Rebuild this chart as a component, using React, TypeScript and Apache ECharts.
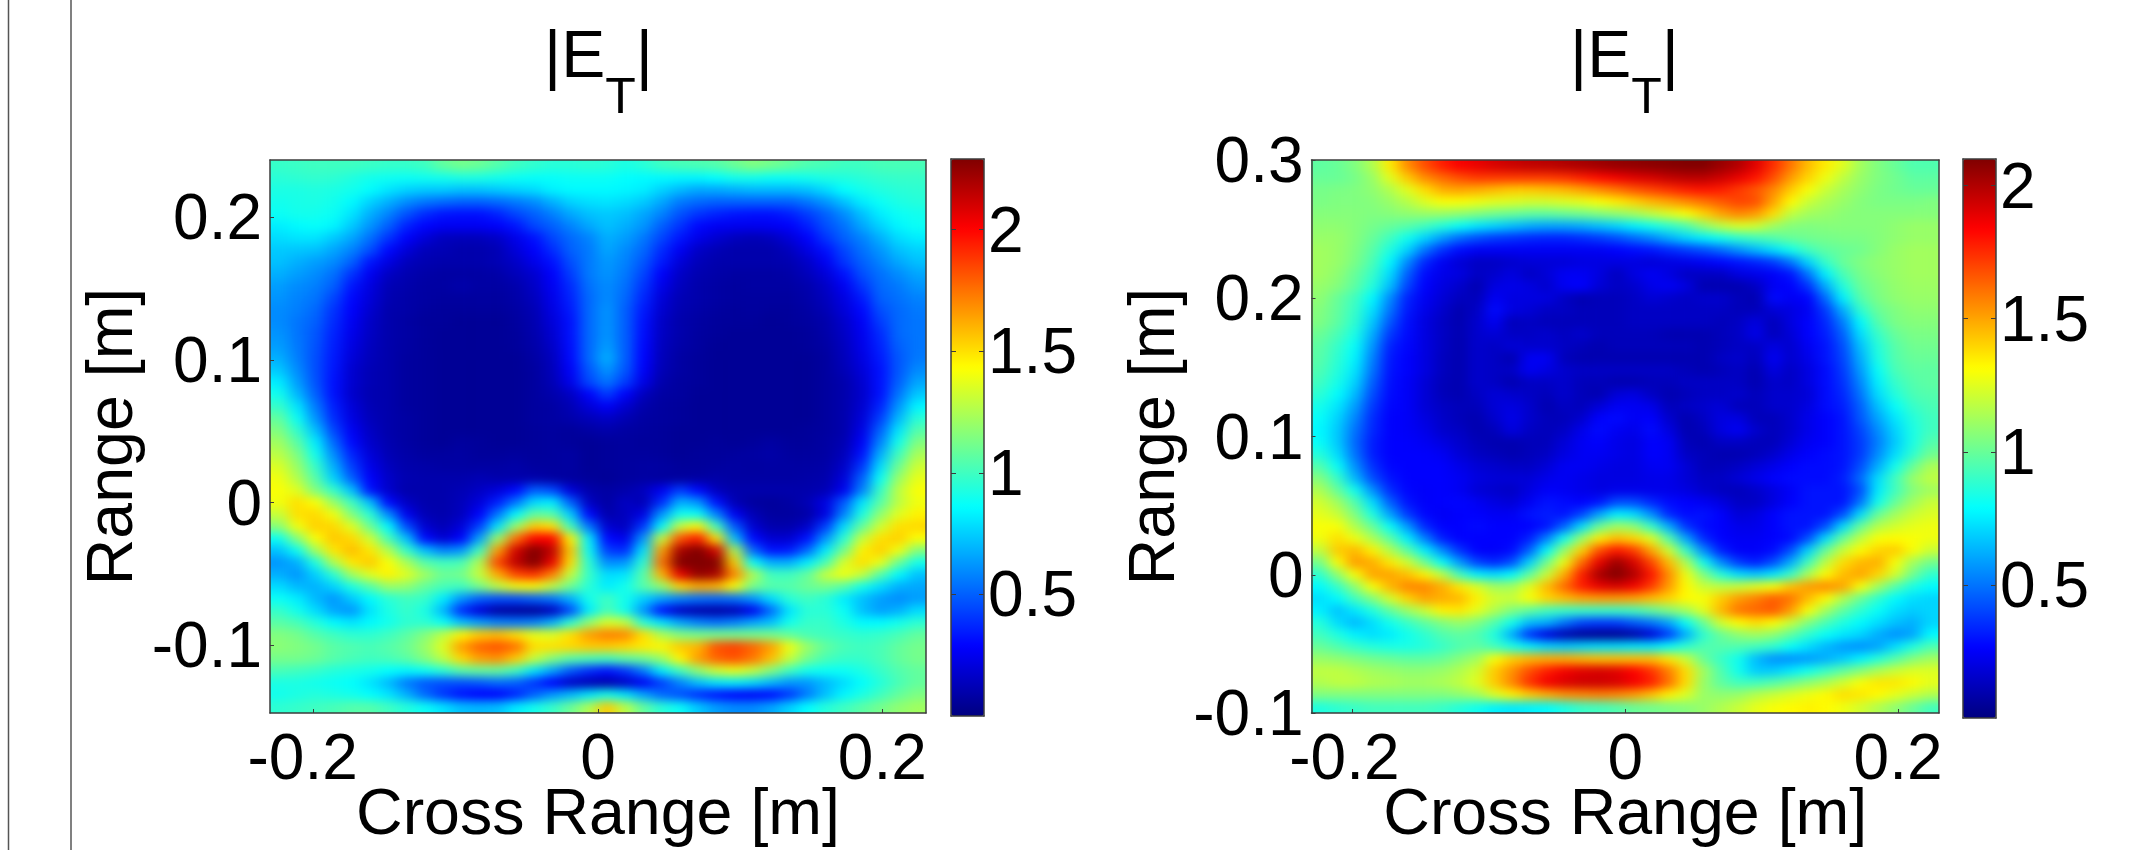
import React, { useEffect, useRef } from "react";
import * as echarts from "echarts";

const FONT = "Liberation Sans";
const JET = ["#000080", "#0000ff", "#0080ff", "#00ffff", "#80ff80", "#ffff00", "#ff8000", "#ff0000", "#800000"];

const leftXTicks = [-0.2, 0, 0.2];
const leftYTicks = [-0.1, 0, 0.1, 0.2];
const rightXTicks = [-0.2, 0, 0.2];
const rightYTicks = [-0.1, 0, 0.1, 0.2, 0.3];
const barTicks = [0.5, 1, 1.5, 2];
const TITLE = ["|E", "T", "|"];
const X_NAME = "Cross Range [m]";
const Y_NAME = "Range [m]";

// Field magnitude |E_T|, in hundredths, top row first.
const leftRows = [
[98,99,100,100,100,99,98,98,100,108,112,110,105,100,97,95,95,96,95,92,95,100,102,103,105,110,115,112,108,104,102,100,100,102,102,102],
[95,96,97,96,93,90,89,88,89,90,92,92,90,88,87,87,88,88,88,86,85,85,84,84,86,90,90,88,88,90,92,93,95,97,98,98],
[92,92,93,92,90,86,80,76,74,74,72,72,74,76,78,83,85,85,85,84,82,76,70,66,66,68,70,70,70,72,78,86,90,93,95,96],
[90,91,92,90,85,76,68,60,55,52,50,50,52,56,60,68,76,79,80,78,74,66,56,52,50,50,50,50,50,55,62,72,82,88,92,94],
[88,90,90,88,80,68,58,47,38,33,32,32,36,44,50,57,66,72,74,72,66,58,47,40,36,33,32,32,35,42,50,60,72,82,88,90],
[82,85,87,84,74,62,50,36,29,26,26,26,28,33,44,50,58,66,72,68,62,50,40,30,26,25,25,26,28,35,46,54,66,76,84,88],
[78,80,80,74,66,54,40,28,20,14,13,13,16,24,32,44,52,58,68,64,56,44,33,24,18,14,12,14,20,28,40,50,58,68,78,82],
[74,73,72,66,58,46,30,20,13,12,10,10,12,20,28,38,50,56,66,60,52,38,26,16,12,10,10,10,14,22,32,44,54,62,72,76],
[72,68,64,60,50,33,22,14,11,10,10,10,12,16,24,32,46,56,63,58,48,34,20,13,10,10,10,10,11,16,26,40,50,58,66,72],
[68,64,60,54,40,26,15,11,9,8,8,8,9,13,18,28,42,56,62,56,44,28,16,11,9,8,8,8,9,13,20,32,46,54,60,66],
[64,60,57,50,33,22,12,10,8,8,10,8,8,10,16,26,38,54,60,54,40,24,14,10,8,7,8,8,8,10,16,26,40,52,56,62],
[62,58,55,44,30,20,11,9,8,7,7,7,7,9,14,24,36,52,60,52,37,20,12,10,8,7,7,7,7,9,14,22,34,50,54,58],
[60,57,52,40,28,18,10,9,7,6,6,6,6,8,12,22,34,52,62,50,34,18,11,9,7,6,7,6,6,8,12,20,30,46,52,56],
[60,55,50,38,26,16,10,8,6,6,5,5,5,7,11,20,32,52,62,50,32,16,10,8,6,6,6,5,6,7,10,17,27,42,52,55],
[62,55,48,36,24,15,10,8,6,5,5,5,5,6,10,18,32,52,62,50,31,15,10,7,6,5,5,5,5,6,9,15,25,38,52,55],
[64,56,47,35,22,14,10,8,6,5,5,5,5,6,9,16,31,52,64,50,30,14,9,7,5,5,5,5,5,6,8,14,24,36,50,55],
[68,57,46,34,20,13,10,7,6,5,5,5,5,5,8,14,30,52,68,50,29,13,8,6,5,5,5,5,5,5,7,13,22,34,48,56],
[74,60,46,33,18,12,10,7,6,5,5,5,5,5,7,13,27,48,62,48,27,12,8,6,5,5,5,5,5,5,7,12,20,32,48,60],
[82,64,47,32,18,12,10,7,6,5,5,5,5,5,7,12,24,44,55,42,23,10,7,6,5,5,5,5,5,5,7,10,18,32,50,66],
[90,70,50,32,17,11,10,7,6,5,5,5,5,5,7,10,15,28,42,28,14,8,7,5,5,5,5,5,5,5,7,10,17,32,55,74],
[98,80,56,35,20,12,10,7,6,5,5,5,5,5,7,8,12,20,27,18,10,7,6,5,5,5,5,5,5,5,7,10,18,36,62,84],
[108,88,62,38,22,13,10,8,6,5,5,5,5,5,7,8,10,13,16,12,8,7,6,5,5,5,5,5,5,5,7,10,20,42,70,95],
[115,97,72,44,26,15,10,8,6,5,5,5,5,5,6,7,6,8,10,8,7,6,5,5,5,5,5,5,5,6,7,10,23,50,80,105],
[122,106,82,52,30,17,11,8,6,5,7,6,5,5,6,7,6,5,6,7,6,6,5,5,6,5,6,8,6,6,8,11,27,58,90,115],
[128,114,90,60,36,20,12,9,7,7,8,6,6,7,6,7,8,5,6,7,7,6,5,6,6,7,8,9,7,7,8,13,32,68,100,124],
[135,120,98,68,42,24,14,10,9,8,8,8,8,9,7,7,8,5,6,7,8,8,6,6,7,8,7,8,8,8,9,16,40,78,110,132],
[140,126,105,76,50,28,16,11,10,10,10,12,10,10,10,8,7,6,5,7,8,7,7,8,9,8,8,8,8,9,10,20,50,88,120,138],
[142,136,115,98,72,32,17,10,10,10,12,15,20,30,50,45,20,10,8,10,14,25,42,30,14,10,10,10,10,10,12,25,58,98,128,142],
[140,150,142,120,100,72,30,15,10,10,13,20,35,55,78,82,50,15,8,15,12,38,68,62,32,12,7,6,8,12,22,48,80,105,128,140],
[130,150,152,140,115,95,60,25,12,10,14,28,55,85,108,105,75,30,10,14,22,62,90,88,58,26,12,7,7,9,22,58,92,118,136,146],
[116,140,154,152,136,110,85,45,18,12,20,42,80,120,155,150,100,55,18,14,40,85,130,145,100,48,18,10,10,16,42,78,108,132,150,152],
[88,116,142,156,152,132,102,72,30,18,28,65,120,175,200,200,145,82,30,24,62,130,182,195,150,72,30,18,18,32,62,95,130,150,154,142],
[72,88,122,148,158,148,126,98,72,58,62,100,165,210,232,215,155,88,42,38,80,165,220,235,210,125,52,32,34,52,82,112,146,154,140,115],
[62,68,92,125,148,155,142,124,105,100,102,125,185,215,230,205,150,95,60,62,95,175,230,240,230,155,88,68,68,82,102,134,150,138,110,90],
[68,62,75,95,122,136,146,136,122,110,112,130,162,185,190,172,130,98,78,80,105,160,205,225,220,170,125,100,100,108,130,140,130,105,85,72],
[78,70,68,76,92,105,120,118,108,102,100,112,128,140,142,128,110,95,82,90,105,118,152,162,160,142,112,105,105,110,112,105,90,78,68,66],
[88,82,70,62,74,85,95,100,98,82,62,50,46,46,50,55,68,90,100,90,75,65,58,54,52,54,62,78,95,100,95,82,72,64,60,64],
[98,90,78,66,62,80,92,98,92,70,38,20,8,6,6,14,45,82,102,90,62,32,15,10,8,12,25,52,80,95,95,88,72,64,68,78],
[106,102,94,85,80,85,90,96,96,88,72,64,58,56,58,68,95,118,135,130,95,80,66,58,54,58,66,72,90,98,98,92,85,85,90,96],
[115,112,105,100,96,96,100,106,115,128,145,155,158,150,138,135,150,165,172,170,150,125,115,112,112,112,112,112,108,102,100,98,96,98,102,108],
[117,115,112,106,104,102,105,110,120,136,165,178,182,175,150,150,152,155,155,152,148,145,155,160,182,186,178,165,140,120,108,102,100,102,108,112],
[112,112,110,105,102,100,102,106,115,128,152,165,168,155,130,115,105,102,100,106,110,120,145,165,178,182,174,158,130,112,102,98,98,102,108,112],
[102,100,98,94,92,90,86,84,88,95,105,108,108,100,80,65,48,38,32,40,56,82,100,118,132,138,130,115,100,90,88,88,92,98,104,108],
[92,92,90,88,86,80,70,56,48,46,46,48,52,50,40,28,16,12,10,16,26,42,58,72,80,82,78,70,62,62,70,78,86,94,102,108],
[90,92,94,92,90,86,80,68,52,40,32,28,28,36,50,62,70,80,90,80,65,52,46,38,32,28,27,30,40,56,72,84,92,100,108,114],
[96,98,100,102,105,105,100,94,88,80,72,70,72,82,90,98,110,125,155,128,108,95,88,74,64,60,60,66,76,86,94,100,106,112,118,122],
];

const rightRows = [
[98,100,105,115,135,155,168,178,185,188,192,195,197,198,200,202,204,206,207,208,209,210,210,205,200,190,175,160,145,135,125,112,105,100,95,95],
[100,100,103,110,125,142,155,162,168,172,172,172,172,172,174,178,182,186,190,192,196,198,198,194,188,180,168,152,140,128,118,110,105,102,98,98],
[103,104,105,108,115,125,138,148,150,148,145,142,142,144,146,150,155,160,166,170,174,178,180,178,172,166,156,142,130,120,113,108,104,102,100,100],
[104,105,105,106,110,116,124,130,130,128,125,124,122,122,124,126,130,135,140,146,150,155,160,165,170,168,150,132,120,114,110,106,104,104,104,105],
[106,106,106,105,106,108,110,110,108,105,102,100,98,98,100,102,105,108,112,118,124,130,140,150,156,152,138,118,112,110,107,106,106,106,106,106],
[108,108,106,103,100,97,92,86,80,74,70,66,62,60,60,62,66,70,76,82,88,95,108,118,124,122,112,106,105,106,106,106,106,108,110,110],
[110,110,106,100,92,82,70,58,48,42,38,36,34,33,33,35,38,42,48,54,62,70,76,82,88,92,96,100,102,103,104,104,106,108,110,110],
[112,110,105,97,85,70,50,36,28,24,24,24,24,24,24,24,24,26,28,30,34,38,42,48,56,64,72,82,92,98,100,102,106,110,112,112],
[112,110,104,94,78,55,34,24,18,14,14,16,18,18,18,20,20,20,20,18,20,22,24,27,30,33,38,50,70,90,100,105,108,110,112,112],
[112,108,100,90,72,46,28,22,20,14,16,20,14,18,24,24,20,13,20,24,20,14,14,14,20,22,25,30,50,76,94,103,107,110,112,112],
[110,106,98,86,66,40,26,20,16,10,20,22,20,16,24,26,18,14,16,22,24,20,10,10,10,14,24,26,36,62,86,100,105,109,111,111],
[108,100,92,78,55,33,24,18,13,12,24,20,20,20,14,10,12,12,14,18,16,14,16,16,12,10,28,24,26,48,76,96,104,108,110,110],
[106,99,90,73,50,31,22,16,10,14,28,20,18,14,14,12,12,12,14,14,14,14,14,14,12,12,18,20,24,38,62,88,100,105,108,108],
[105,98,88,68,44,29,20,14,10,16,24,12,14,12,12,12,12,12,14,14,14,14,14,12,14,20,12,20,26,34,52,78,96,104,106,106],
[101,94,84,62,38,28,20,14,10,16,18,14,14,16,13,16,12,12,12,12,10,10,10,12,14,22,12,18,26,32,46,72,90,100,104,104],
[98,90,80,57,33,27,20,14,10,16,14,18,16,16,14,12,10,12,12,12,12,12,10,12,14,14,20,16,24,30,42,66,86,97,102,102],
[97,88,77,53,31,26,20,13,10,16,14,10,24,24,12,10,10,10,10,10,10,10,10,14,16,12,24,16,22,30,40,62,84,96,100,100],
[95,86,74,50,30,26,20,13,10,16,14,14,24,20,16,14,14,14,14,14,14,12,10,12,14,10,20,14,20,28,38,58,80,94,98,98],
[92,83,70,46,29,25,18,12,10,16,14,10,14,14,16,12,12,10,10,12,12,14,14,14,14,10,16,14,20,28,36,54,76,90,96,98],
[88,79,65,42,28,25,18,12,10,14,18,16,14,12,16,12,10,18,20,14,10,12,14,14,16,12,16,16,18,28,34,50,72,86,94,96],
[83,74,59,38,27,25,18,14,12,12,18,20,16,10,14,12,18,24,24,22,12,14,16,18,12,12,16,16,20,28,32,46,66,80,90,94],
[80,70,54,35,26,25,20,15,12,10,16,22,16,12,12,16,26,28,24,26,16,10,14,20,20,12,12,16,22,26,30,44,60,74,86,92],
[78,68,50,34,26,25,22,16,14,10,12,20,14,12,14,22,28,24,22,28,20,10,12,20,24,16,12,16,22,26,30,40,55,70,84,92],
[80,68,48,32,26,26,24,20,16,12,10,10,12,12,18,24,26,22,20,26,24,12,10,14,14,12,12,18,24,26,30,38,52,68,84,96],
[86,72,50,32,26,26,26,24,18,14,12,10,12,14,20,24,24,22,20,26,24,14,12,10,10,12,16,22,26,28,30,38,55,72,88,102],
[96,80,56,36,27,26,26,26,22,18,16,14,14,18,24,24,22,20,20,24,24,18,12,12,14,18,22,26,28,28,30,42,62,82,100,114],
[106,90,64,42,30,26,26,26,24,20,18,18,18,22,24,22,20,20,20,22,22,18,14,14,18,22,26,28,28,28,32,48,72,92,110,118],
[115,100,82,56,35,27,25,26,24,18,16,14,20,25,24,22,20,22,22,22,22,20,16,13,12,15,20,25,30,30,30,42,75,92,106,112],
[122,112,96,72,46,30,25,26,27,24,20,18,24,30,28,26,30,42,42,34,28,26,24,20,14,14,20,26,30,30,30,50,82,100,112,120],
[126,120,105,85,60,38,27,24,26,26,24,24,30,32,30,40,60,76,72,56,34,28,30,26,18,20,26,30,30,30,42,72,100,112,120,124],
[130,130,115,100,80,58,34,26,26,28,26,26,26,30,46,72,100,112,108,90,62,36,28,26,22,22,26,30,30,42,72,100,116,122,126,128],
[128,138,128,114,98,76,52,32,26,26,26,26,32,52,82,110,135,145,140,125,96,60,34,26,24,24,26,28,42,72,100,118,130,132,130,128],
[118,142,146,134,116,98,76,55,36,26,25,28,46,78,110,140,168,180,172,150,122,90,55,32,25,25,28,42,70,100,120,132,140,142,130,120],
[102,130,152,148,136,122,102,80,58,40,34,42,70,102,128,162,188,205,192,170,145,115,82,55,38,32,42,62,92,118,138,146,148,130,112,102],
[88,108,130,150,150,144,134,118,92,76,72,78,98,120,148,178,202,210,200,180,155,128,105,86,72,68,74,90,114,132,145,150,140,122,102,88],
[78,90,108,130,146,156,156,148,136,124,112,112,125,145,162,178,188,192,186,172,152,132,120,118,120,125,130,144,152,155,150,130,112,96,84,78],
[72,78,92,105,122,140,150,148,146,134,122,120,130,140,145,150,152,152,150,145,140,132,130,142,152,158,165,160,145,132,115,100,88,78,72,70],
[76,66,74,85,98,110,120,134,136,126,115,105,98,92,90,90,90,90,92,98,105,112,125,146,160,163,166,152,130,112,98,88,80,72,68,70],
[86,72,64,72,82,90,98,105,110,105,95,82,65,62,50,40,38,38,44,50,60,80,100,122,132,138,132,120,105,94,85,78,72,66,62,70],
[92,85,76,72,75,82,88,95,98,95,85,62,36,20,10,5,4,4,8,18,38,62,88,100,108,112,108,98,88,80,74,70,62,56,60,78],
[100,95,90,86,84,84,86,90,95,98,92,84,76,70,68,70,72,72,74,74,80,88,95,96,95,92,88,80,72,64,58,56,60,72,85,95],
[110,108,105,102,100,98,98,100,106,112,130,141,146,148,148,146,144,144,144,144,136,120,100,90,82,65,56,56,58,62,68,76,86,96,106,112],
[118,118,115,112,110,108,108,110,115,122,142,154,168,178,186,190,192,190,184,174,158,138,112,95,82,68,68,74,82,90,98,106,114,120,124,124],
[115,118,118,115,114,112,112,114,118,125,142,156,174,186,191,194,194,192,186,178,161,138,110,98,92,92,96,102,108,114,122,130,136,136,132,126],
[105,105,105,105,105,105,105,105,108,112,124,134,142,148,154,156,158,156,152,144,134,124,110,108,110,116,120,124,128,132,138,136,132,126,120,115],
[85,88,90,92,92,92,92,90,86,82,76,74,76,78,84,90,92,95,100,102,104,106,110,115,120,126,130,132,134,132,128,122,115,108,100,92],
];

const leftRange = { xMin: -0.2307, xMax: 0.2307, yMin: -0.1473, yMax: 0.24, barMax: 2.29 };
const rightRange = { xMin: -0.23, xMax: 0.23, yMin: -0.1, yMax: 0.3, barMax: 2.1 };

const leftPlot = { x: 270, y: 160, w: 656, h: 553 };
const rightPlot = { x: 1311.5, y: 160, w: 627.5, h: 553 };
const leftBar = { x: 951, y: 159, w: 33, h: 557 };
const rightBar = { x: 1963, y: 159, w: 33, h: 559 };

const FRAME = "#3c3c3c";
const labelStyle = { fontFamily: FONT, fontSize: 64, color: "#000", margin: 8, hideOverlap: false };
const nameStyle = { fontFamily: FONT, fontSize: 64.5, color: "#000" };
const lineStyle = { show: true, onZero: false, lineStyle: { color: FRAME, width: 1.5 } };

const toCells = (rows: number[][]) => {
  const out: number[][] = [];
  rows.forEach((row, r) => row.forEach((v, c) => out.push([c, rows.length - 1 - r, v / 100])));
  return out;
};
const indices = (n: number) => Array.from({ length: n }, (_, i) => String(i));

function panelAxes(grid: number, rows: number[][], range: any, xTicks: number[], yTicks: number[], yGap: number, negPad: number) {
  const hidden = { axisLabel: { show: false }, axisTick: { show: false }, splitLine: { show: false }, z: 5 };
  return {
    x: [
      { type: "category", gridIndex: grid, position: "top", data: indices(rows[0].length), axisLine: lineStyle, ...hidden },
      {
        type: "value", gridIndex: grid, position: "bottom", min: range.xMin, max: range.xMax, z: 5,
        axisLine: lineStyle, splitLine: { show: false },
        axisTick: { inside: true, length: 4, customValues: xTicks, lineStyle: { color: FRAME } },
        axisLabel: {
          ...labelStyle, margin: 12, customValues: xTicks,
          formatter: (v: number) => (v < 0 ? `{n|${v}}` : String(v)),
          rich: { n: { fontFamily: FONT, fontSize: 64, color: "#000", padding: [0, negPad, 0, 0] } },
        },
        name: X_NAME, nameLocation: "middle", nameGap: 66, nameMoveOverlap: false, nameTextStyle: nameStyle,
      },
    ],
    y: [
      { type: "category", gridIndex: grid, position: "right", data: indices(rows.length), axisLine: lineStyle, ...hidden },
      {
        type: "value", gridIndex: grid, position: "left", min: range.yMin, max: range.yMax, z: 5,
        axisLine: lineStyle, splitLine: { show: false },
        axisTick: { inside: true, length: 4, customValues: yTicks, lineStyle: { color: FRAME } },
        axisLabel: { ...labelStyle, customValues: yTicks, formatter: (v: number) => String(v) },
        name: Y_NAME, nameLocation: "middle", nameRotate: 90, nameGap: yGap, nameMoveOverlap: false, nameTextStyle: nameStyle,
      },
    ],
  };
}

function barAxes(grid: number, max: number) {
  const bare = { axisLabel: { show: false }, axisTick: { show: false }, splitLine: { show: false }, z: 5 };
  const ticks = { inside: true, length: 5, customValues: barTicks, lineStyle: { color: FRAME } };
  return {
    x: [
      { type: "value", gridIndex: grid, position: "top", min: 0, max: 1, axisLine: lineStyle, ...bare },
      { type: "value", gridIndex: grid, position: "bottom", min: 0, max: 1, axisLine: lineStyle, ...bare },
    ],
    y: [
      { type: "value", gridIndex: grid, position: "left", min: 0, max, axisLine: lineStyle, z: 5, splitLine: { show: false }, axisLabel: { show: false }, axisTick: ticks },
      {
        type: "value", gridIndex: grid, position: "right", min: 0, max, axisLine: lineStyle, z: 5, splitLine: { show: false }, axisTick: ticks,
        axisLabel: { ...labelStyle, margin: 4, customValues: barTicks, formatter: (v: number) => String(v) },
      },
    ],
  };
}

const rect = (p: any) => ({ left: p.x, top: p.y, width: p.w, height: p.h, containLabel: false, outerBoundsMode: "none" });

function titleOption(left: number) {
  const base = { fontFamily: FONT, color: "#000", fontWeight: "normal" };
  return {
    left,
    top: 16,
    text: `{a|${TITLE[0]}}{t|${TITLE[1]}}{a|${TITLE[2]}}`,
    textStyle: {
      fontWeight: "normal",
      rich: {
        a: { ...base, fontSize: 66, verticalAlign: "top", lineHeight: 70 },
        t: { ...base, fontSize: 50, verticalAlign: "bottom", lineHeight: 100 },
      },
    },
  };
}

// Softens the cell edges of a heatmap, as the original's finely sampled image has none.
function softenCells(svg: SVGSVGElement, p: any, cols: number, rows: number, id: string) {
  const ns = "http://www.w3.org/2000/svg";
  const cw = p.w / cols, ch = p.h / rows;
  const cells = Array.from(svg.querySelectorAll("path")).filter((el) => {
    const b = (el as SVGPathElement).getBBox();
    return b.x >= p.x - 2 && b.x + b.width <= p.x + p.w + 2 && b.y >= p.y - 2 && b.y + b.height <= p.y + p.h + 2 &&
      Math.abs(b.width - cw) < 2.5 && Math.abs(b.height - ch) < 2.5;
  });
  if (!cells.length) return;
  const f = document.createElementNS(ns, "filter");
  f.setAttribute("id", id);
  f.setAttribute("filterUnits", "userSpaceOnUse");
  f.setAttribute("x", String(p.x));
  f.setAttribute("y", String(p.y));
  f.setAttribute("width", String(p.w));
  f.setAttribute("height", String(p.h));
  f.setAttribute("color-interpolation-filters", "sRGB");
  const blur = document.createElementNS(ns, "feGaussianBlur");
  blur.setAttribute("stdDeviation", "7 5");
  const transfer = document.createElementNS(ns, "feComponentTransfer");
  const alpha = document.createElementNS(ns, "feFuncA");
  alpha.setAttribute("type", "discrete");
  alpha.setAttribute("tableValues", "1 1");
  transfer.appendChild(alpha);
  f.appendChild(blur);
  f.appendChild(transfer);
  let defs = svg.querySelector("defs");
  if (!defs) {
    defs = document.createElementNS(ns, "defs");
    svg.insertBefore(defs, svg.firstChild);
  }
  defs.appendChild(f);
  const g = document.createElementNS(ns, "g");
  g.setAttribute("filter", `url(#${id})`);
  cells[0].parentNode!.insertBefore(g, cells[0]);
  cells.forEach((c) => g.appendChild(c));
}

export default function App() {
  const ref = useRef<HTMLDivElement>(null);
  useEffect(() => {
    const chart = echarts.init(ref.current!, null, { renderer: "svg" });
    const lp = panelAxes(0, leftRows, leftRange, leftXTicks, leftYTicks, 128, 22);
    const lb = barAxes(1, leftRange.barMax);
    const rp = panelAxes(2, rightRows, rightRange, rightXTicks, rightYTicks, 127, 16);
    const rb = barAxes(3, rightRange.barMax);
    const xAxis = [...lp.x, ...lb.x, ...rp.x, ...rb.x];
    const yAxis = [...lp.y, ...lb.y, ...rp.y, ...rb.y];
    const heat = (xi: number, yi: number, rows: number[][]) => ({
      type: "heatmap", xAxisIndex: xi, yAxisIndex: yi, data: toCells(rows), progressive: 0, silent: true,
      emphasis: { disabled: true }, itemStyle: { borderWidth: 0 },
    });
    chart.setOption({
      animation: false,
      backgroundColor: "#fff",
      title: [titleOption(539), titleOption(1565)],
      grid: [rect(leftPlot), rect(leftBar), rect(rightPlot), rect(rightBar)],
      xAxis,
      yAxis,
      visualMap: [
        { type: "continuous", seriesIndex: 0, min: 0, max: leftRange.barMax, inRange: { color: JET }, calculable: false, hoverLink: false, padding: 0, left: leftBar.x, top: leftBar.y, itemWidth: leftBar.w, itemHeight: leftBar.h },
        { type: "continuous", seriesIndex: 1, min: 0, max: rightRange.barMax, inRange: { color: JET }, calculable: false, hoverLink: false, padding: 0, left: rightBar.x, top: rightBar.y, itemWidth: rightBar.w, itemHeight: rightBar.h },
      ],
      series: [heat(0, 0, leftRows), heat(4, 4, rightRows)],
      graphic: [
        { type: "line", silent: true, shape: { x1: 8.5, y1: 0, x2: 8.5, y2: 850 }, style: { stroke: "#555", lineWidth: 1.5 } },
        { type: "line", silent: true, shape: { x1: 71, y1: 0, x2: 71, y2: 850 }, style: { stroke: "#808080", lineWidth: 2 } },
      ],
    });
    const svg = ref.current!.querySelector("svg") as SVGSVGElement | null;
    if (svg) {
      softenCells(svg, leftPlot, leftRows[0].length, leftRows.length, "softLeft");
      softenCells(svg, rightPlot, rightRows[0].length, rightRows.length, "softRight");
    }
    return () => chart.dispose();
  }, []);
  return <div ref={ref} style={{ position: "absolute", left: 0, top: 0, width: 2146, height: 850, background: "#fff" }} />;
}
